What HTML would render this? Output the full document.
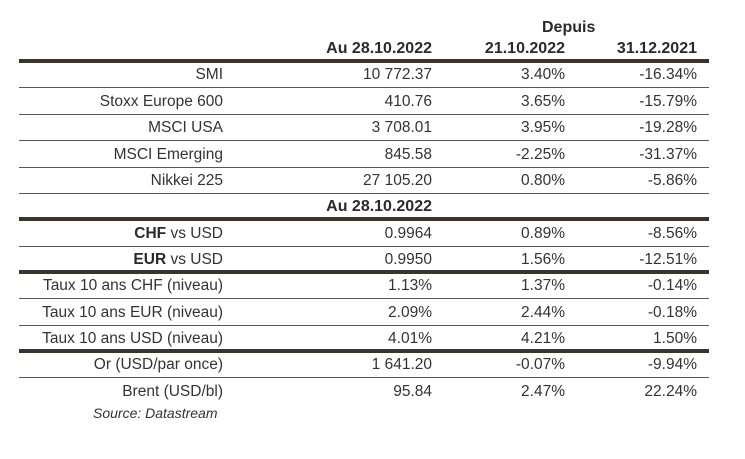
<!DOCTYPE html>
<html><head><style>
body{margin:0;width:745px;height:459px;background:#fff;font-family:"Liberation Sans",sans-serif;font-size:15.5px;color:#333;position:relative;overflow:hidden}
.t{position:absolute;white-space:nowrap;line-height:17px}
.r{text-align:right}
.b{font-weight:bold;color:#2a2a2a}
.hd{font-size:16px}
.hl{position:absolute;left:19px;width:690px;background:#3b342a}
</style></head><body>
<div class="t b hd" style="left:542px;top:19px">Depuis</div>
<div class="t b r hd" style="right:313px;top:40px">Au 28.10.2022</div>
<div class="t b r hd" style="right:180px;top:40px">21.10.2022</div>
<div class="t b r hd" style="right:48px;top:40px">31.12.2021</div>
<div class="hl" style="top:59px;height:4px"></div>

<div id="rows"></div>
<script>
var rows=[
["SMI","10 772.37","3.40%","-16.34%",66,1],
["Stoxx Europe 600","410.76","3.65%","-15.79%",92.5,1],
["MSCI USA","3 708.01","3.95%","-19.28%",119,1],
["MSCI Emerging","845.58","-2.25%","-31.37%",145.5,1],
["Nikkei 225","27 105.20","0.80%","-5.86%",172,1],
[null,"<b class='b hd'>Au 28.10.2022</b>","","",198,4],
["<b class='b'>CHF</b> vs USD","0.9964","0.89%","-8.56%",225,1],
["<b class='b'>EUR</b> vs USD","0.9950","1.56%","-12.51%",251,4],
["Taux 10 ans CHF (niveau)","1.13%","1.37%","-0.14%",277,1],
["Taux 10 ans EUR (niveau)","2.09%","2.44%","-0.18%",303.5,1],
["Taux 10 ans USD (niveau)","4.01%","4.21%","1.50%",330,4],
["Or (USD/par once)","1 641.20","-0.07%","-9.94%",356,1],
["Brent (USD/bl)","95.84","2.47%","22.24%",383,0]];
var h="";
rows.forEach(function(r){
 var y=r[4];
 if(r[0]!==null)h+='<div class="t r" style="right:522px;top:'+y+'px">'+r[0]+'</div>';
 h+='<div class="t r" style="right:313px;top:'+y+'px">'+r[1]+'</div>';
 h+='<div class="t r" style="right:180px;top:'+y+'px">'+r[2]+'</div>';
 h+='<div class="t r" style="right:48px;top:'+y+'px">'+r[3]+'</div>';
 if(r[5]==1)h+='<div class="hl" style="top:'+(y+21)+'px;height:1px;background:#555"></div>';
 if(r[5]==4)h+='<div class="hl" style="top:'+(y+19)+'px;height:4px"></div>';
});
document.getElementById("rows").innerHTML=h;
</script>
<div class="t" style="left:93px;top:405px;font-style:italic;font-size:14px">Source: Datastream</div>
</body></html>
